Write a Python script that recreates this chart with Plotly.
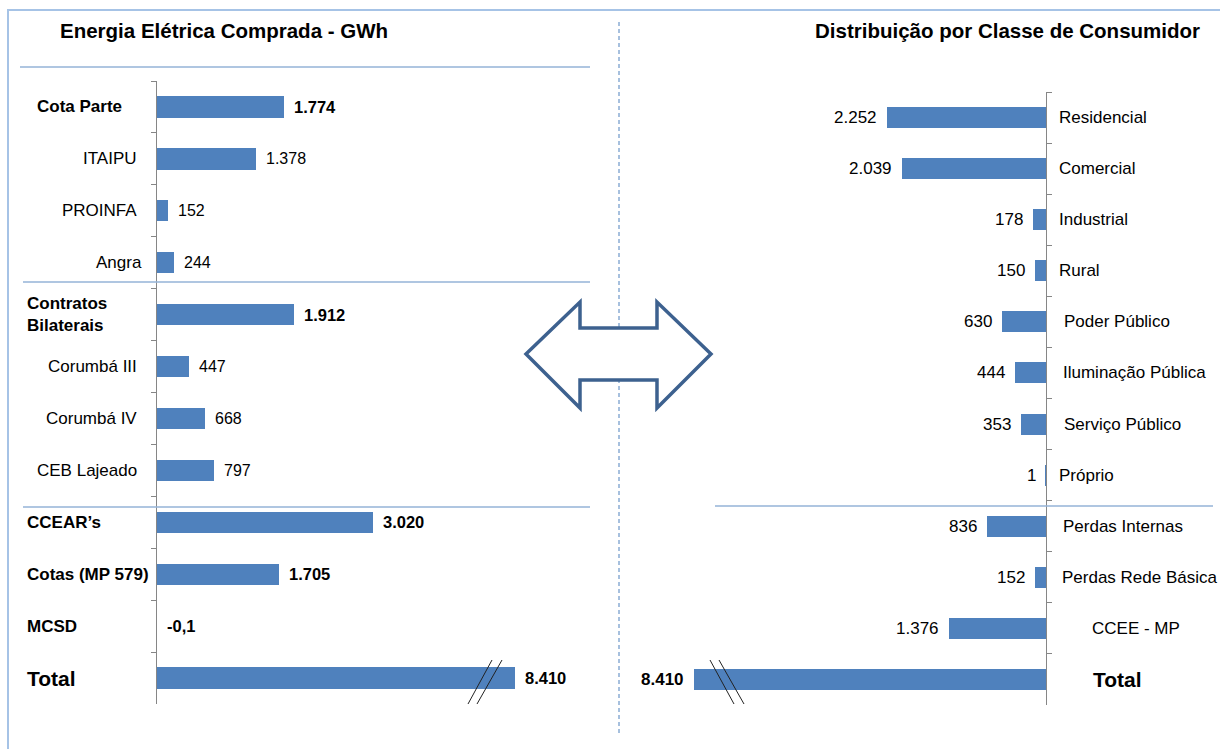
import plotly.graph_objects as go

# ---------------- data ----------------
left_categories = ["Cota Parte", "ITAIPU", "PROINFA", "Angra", "Contratos<br>Bilaterais",
                   "Corumbá III", "Corumbá IV", "CEB Lajeado", "CCEAR’s", "Cotas (MP 579)",
                   "MCSD", "Total"]
left_values = [1774, 1378, 152, 244, 1912, 447, 668, 797, 3020, 1705, -0.1, 8410]
left_value_text = ["1.774", "1.378", "152", "244", "1.912", "447", "668", "797",
                   "3.020", "1.705", "-0,1", "8.410"]
left_bold = [True, False, False, False, True, False, False, False, True, True, True, True]

right_categories = ["Residencial", "Comercial", "Industrial", "Rural", "Poder Público",
                    "Iluminação Pública", "Serviço Público", "Próprio", "Perdas Internas",
                    "Perdas Rede Básica", "CCEE - MP", "Total"]
right_values = [2252, 2039, 178, 150, 630, 444, 353, 1, 836, 152, 1376, 8410]
right_value_text = ["2.252", "2.039", "178", "150", "630", "444", "353", "1", "836",
                    "152", "1.376", "8.410"]
right_bold = [False] * 11 + [True]

left_title = "Energia Elétrica Comprada - GWh"
right_title = "Distribuição por Classe de Consumidor"

AXIS_BREAK = 5000  # bars longer than this are drawn broken (axis break marks)

# ---------------- style ----------------
W, H = 1220, 749
FONT = "Liberation Sans, Arial, sans-serif"
BAR = "#4f81bd"
AXIS = "#868686"
SEP = "#95b3d7"


def px(x, y):
    return x / W, 1 - y / H


left_disp = [min(v, AXIS_BREAK) for v in left_values]
right_disp = [min(v, AXIS_BREAK) for v in right_values]

kL, kR = 0.0715, 0.0704  # pixels per GWh
xL0, xL1 = 157, 620
xR0, xR1 = 640, 1046

fig = go.Figure()
fig.add_trace(go.Bar(orientation="h", x=left_disp, y=left_categories, xaxis="x", yaxis="y",
                     marker=dict(color=BAR, line=dict(width=0)), width=0.41, hoverinfo="skip"))
fig.add_trace(go.Bar(orientation="h", x=right_disp, y=right_categories, xaxis="x2", yaxis="y2",
                     marker=dict(color=BAR, line=dict(width=0)), width=0.41, hoverinfo="skip"))

yax = dict(type="category", categoryorder="array", showline=True, linecolor=AXIS, linewidth=1,
           ticks="outside", ticklen=5, tickcolor=AXIS, tickson="boundaries",
           showticklabels=False, showgrid=False, zeroline=False, range=[11.5, -0.5])

fig.update_layout(
    width=W, height=H, margin=dict(l=0, r=0, t=0, b=0),
    paper_bgcolor="white", plot_bgcolor="white", showlegend=False, bargap=0,
    xaxis=dict(domain=[xL0 / W, xL1 / W], range=[0, (xL1 - xL0) / kL], visible=False,
               anchor="y"),
    xaxis2=dict(domain=[xR0 / W, xR1 / W], range=[(xR1 - xR0) / kR, 0], visible=False,
                anchor="y2"),
    yaxis=dict(yax, domain=[1 - 704 / H, 1 - 81 / H], anchor="x",
               categoryarray=left_categories),
    yaxis2=dict(yax, domain=[1 - 705 / H, 1 - 92 / H], anchor="x2", side="right",
                categoryarray=right_categories),
)

ann = []
# titles
x, y = px(58, 30)
ann.append(dict(text=f"<b>{left_title}</b>", x=x, y=y, xref="paper", yref="paper",
                xanchor="left", yanchor="middle", showarrow=False,
                font=dict(family=FONT, size=20.5, color="black")))
x, y = px(1202, 30)
ann.append(dict(text=f"<b>{right_title}</b>", x=x, y=y, xref="paper", yref="paper",
                xanchor="right", yanchor="middle", showarrow=False,
                font=dict(family=FONT, size=20.5, color="black")))

# left category labels
for i, cat in enumerate(left_categories):
    if left_bold[i]:
        lx = 35 if i == 0 else 25
        size = 21 if cat == "Total" else 17
        ann.append(dict(text=f"<b>{cat}</b>", x=lx / W, y=cat, xref="paper", yref="y",
                        xanchor="left", yanchor="middle", showarrow=False, align="left",
                        font=dict(family=FONT, size=size, color="black")))
    else:
        rx = 144 if cat == "Angra" else 139
        ann.append(dict(text=cat, x=rx / W, y=cat, xref="paper", yref="y",
                        xanchor="right", yanchor="middle", showarrow=False,
                        font=dict(family=FONT, size=17, color="black")))
# left value labels
for i, cat in enumerate(left_categories):
    t = left_value_text[i]
    b = left_bold[i]
    ann.append(dict(text=f"<b>{t}</b>" if b else t, x=max(left_disp[i], 0), y=cat,
                    xref="x", yref="y", xanchor="left", yanchor="middle", showarrow=False,
                    xshift=8, font=dict(family=FONT, size=16.5 if b else 16, color="black")))

# right category labels
right_label_x = [1057, 1057, 1057, 1057, 1062, 1061, 1062, 1057, 1061, 1060, 1090, 1091]
for i, cat in enumerate(right_categories):
    b = right_bold[i]
    ann.append(dict(text=f"<b>{cat}</b>" if b else cat, x=right_label_x[i] / W, y=cat,
                    xref="paper", yref="y2", xanchor="left", yanchor="middle",
                    showarrow=False,
                    font=dict(family=FONT, size=21 if b else 17, color="black")))
# right value labels
for i, cat in enumerate(right_categories):
    t = right_value_text[i]
    b = right_bold[i]
    ann.append(dict(text=f"<b>{t}</b>" if b else t, x=right_disp[i], y=cat,
                    xref="x2", yref="y2", xanchor="right", yanchor="middle",
                    showarrow=False, xshift=-8,
                    font=dict(family=FONT, size=17, color="black")))

shapes = []


def line(x0, y0, x1, y1, color, width=1, dash="solid"):
    a, b = px(x0, y0)
    c, d = px(x1, y1)
    shapes.append(dict(type="line", xref="paper", yref="paper", x0=a, y0=b, x1=c, y1=d,
                       line=dict(color=color, width=width, dash=dash)))


# outer frame
a, b = px(8, 10)
c, d = px(1230, 760)
shapes.append(dict(type="rect", xref="paper", yref="paper", x0=a, y0=b, x1=c, y1=d,
                   line=dict(color="#a6c3e6", width=2), fillcolor="rgba(0,0,0,0)"))
# separators
line(20, 67, 590, 67, SEP, 1.3)
line(23, 282, 590, 282, SEP, 1.3)
line(23, 507, 590, 507, SEP, 1.3)
line(715, 506, 1213, 506, SEP, 1.3)
# dashed divider
line(619, 22, 619, 736, "#4f81bd", 1, "4px,3px")

# double arrow
pts = [(526, 354), (580, 302), (580, 328), (657, 328), (657, 302), (711, 354),
       (657, 408), (657, 380), (580, 380), (580, 408)]
path = "M " + " L ".join(f"{px(x, y)[0]:.5f},{px(x, y)[1]:.5f}" for x, y in pts) + " Z"
shapes.append(dict(type="path", xref="paper", yref="paper", path=path, fillcolor="white",
                   line=dict(color="#3d618f", width=3.5)))

# axis break marks
line(468, 704, 492, 660, "#222222", 1)
line(477, 704, 502, 660, "#222222", 1)
line(710, 660, 734, 704, "#222222", 1)
line(719, 660, 744, 704, "#222222", 1)

fig.update_layout(annotations=ann, shapes=shapes)
fig.write_html("out.html")
